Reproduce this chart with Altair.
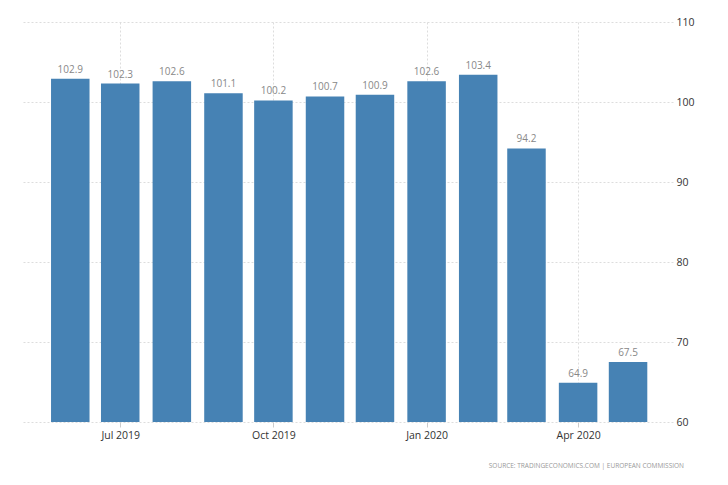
import altair as alt
import pandas as pd

months = ["2019-06-01", "2019-07-01", "2019-08-01", "2019-09-01", "2019-10-01", "2019-11-01",
          "2019-12-01", "2020-01-01", "2020-02-01", "2020-03-01", "2020-04-01", "2020-05-01"]
values = [102.9, 102.3, 102.6, 101.1, 100.2, 100.7, 100.9, 102.6, 103.4, 94.2, 64.9, 67.5]
y_ticks = [60, 70, 80, 90, 100, 110]
source_text = "SOURCE:  TRADINGECONOMICS.COM  |  EUROPEAN  COMMISSION"

df = pd.DataFrame({"date": months, "value": values})
df["label"] = [f"{v:.1f}" for v in values]

FONT = "Open Sans"

x_scale = alt.Scale(type="utc", padding=0,
                    domain=[alt.DateTime(year=2019, month=5, date=3, utc=True),
                            alt.DateTime(year=2020, month=5, date=28, utc=True)])
x_ticks = [alt.DateTime(year=2019, month=7, date=1, utc=True),
           alt.DateTime(year=2019, month=10, date=1, utc=True),
           alt.DateTime(year=2020, month=1, date=1, utc=True),
           alt.DateTime(year=2020, month=4, date=1, utc=True)]
y_scale = alt.Scale(domain=[60, 110], nice=False, zero=False)

x_axis = alt.Axis(values=x_ticks, labelExpr="utcFormat(datum.value, '%b %Y')",
                  title=None, labelColor="#333333", labelFontSize=10.5,
                  labelFont=FONT, labelPadding=3, tickColor="#cccccc",
                  tickSize=5, domain=False, grid=True, gridColor="#dddddd",
                  gridDash=[2, 2])
y_axis = alt.Axis(orient="right", values=y_ticks, title=None, domain=False,
                  ticks=False, labelColor="#333333", labelFontSize=10.5,
                  labelFont=FONT, labelPadding=3, grid=True,
                  gridColor="#dddddd", gridDash=[2, 2])

base = alt.Chart(df)

bars = base.mark_bar(color="#4682b4", size=38.5).encode(
    x=alt.X("date:T", scale=x_scale, axis=x_axis),
    y=alt.Y("value:Q", scale=y_scale, axis=y_axis),
    y2=alt.datum(60),
)

labels = base.mark_text(dy=-9, color="#888888", fontSize=10, font=FONT).encode(
    x=alt.X("date:T", scale=x_scale, axis=x_axis),
    y=alt.Y("value:Q", scale=y_scale, axis=y_axis),
    text="label:N",
)

src = alt.Chart(pd.DataFrame({"t": [source_text]})).mark_text(
    align="right", baseline="middle", fontSize=6.5, color="#999999", font=FONT
).encode(x=alt.value(662), y=alt.value(444), text="t:N")

chart = alt.layer(bars, labels, src).properties(
    width=651, height=400,
    background="white",
    autosize=alt.AutoSizeParams(type="none"),
    padding={"left": 14, "top": 14, "right": 40, "bottom": 50},
).configure_view(strokeWidth=0, stroke="transparent")

chart.save("out.html", embed_options={"renderer": "svg", "actions": False})
